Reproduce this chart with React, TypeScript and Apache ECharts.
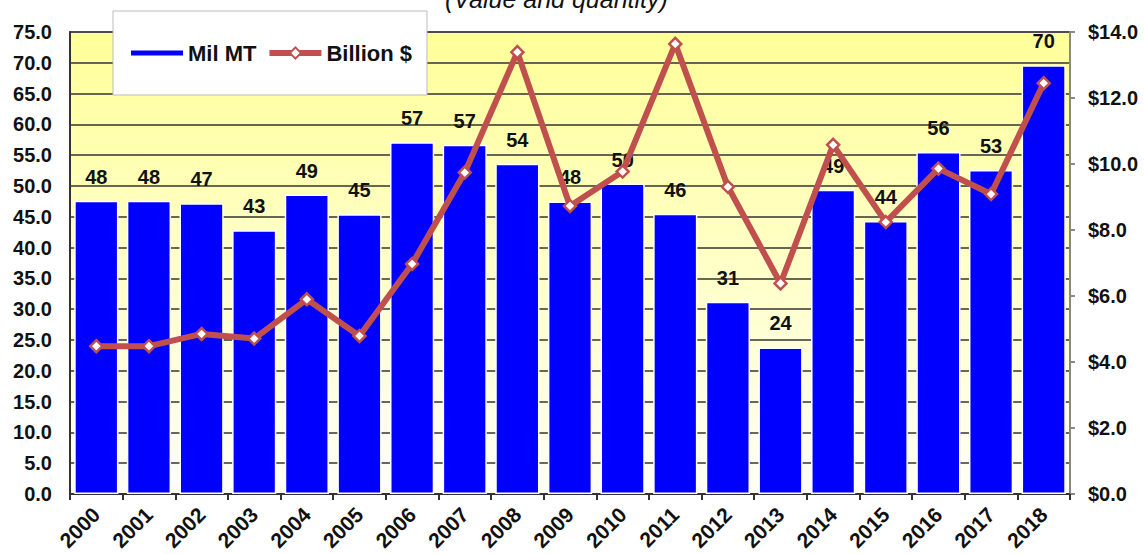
import React, { useEffect, useRef } from "react";
import * as echarts from "echarts";

const years = ["2000","2001","2002","2003","2004","2005","2006","2007","2008","2009","2010","2011","2012","2013","2014","2015","2016","2017","2018"];
const quantityMilMT = [47.6, 47.6, 47.2, 42.8, 48.6, 45.4, 57.1, 56.7, 53.6, 47.5, 50.4, 45.5, 31.2, 23.8, 49.4, 44.3, 55.5, 52.6, 69.6];
const valueBillion = [4.48, 4.48, 4.85, 4.71, 5.9, 4.79, 6.97, 9.74, 13.39, 8.73, 9.77, 13.64, 9.31, 6.38, 10.58, 8.24, 9.86, 9.09, 12.45];
const seriesNames = ["Mil MT", "Billion $"];
const titleText = "(Value and quantity)";

const FONT = 'Arial, "Liberation Sans", sans-serif';

export default function App() {
  const ref = useRef<HTMLDivElement>(null);
  useEffect(() => {
    if (!ref.current) return;
    const chart = echarts.init(ref.current, null, { renderer: "svg" });
    chart.setOption({
      animation: false,
      title: {
        text: titleText,
        left: 445,
        top: -14,
        padding: 0,
        textStyle: { fontFamily: FONT, fontSize: 25, fontStyle: "italic", fontWeight: "normal", color: "#111" },
      },
      legend: {
        left: 113,
        top: 11,
        padding: [31, 15, 31, 18],
        backgroundColor: "#ffffff",
        borderColor: "#bbbbbb",
        borderWidth: 1,
        borderRadius: 0,
        itemWidth: 52,
        itemHeight: 14,
        itemGap: 10,
        textStyle: { fontFamily: FONT, fontSize: 22, fontWeight: "bold", color: "#111" },
        lineStyle: { width: 6 },
        data: [
          {
            name: seriesNames[0],
            icon: "path://M0,0 M0,4.5 L52,4.5 L52,9.5 L0,9.5 Z M52,14",
            itemStyle: { color: "#0000FF", borderWidth: 0 },
          },
          { name: seriesNames[1] },
        ],
      },
      grid: {
        left: 70,
        right: 74,
        top: 32,
        bottom: 60,
        show: true,
        borderColor: "#999999",
        borderWidth: 2,
        backgroundColor: new echarts.graphic.LinearGradient(0, 0, 0, 1, [
          { offset: 0, color: "#FFFF99" },
          { offset: 1, color: "#FFFFF6" },
        ]),
      },
      xAxis: {
        type: "category",
        data: years,
        boundaryGap: true,
        axisLine: { show: true, lineStyle: { color: "#333", width: 2 } },
        axisTick: { show: true, alignWithLabel: false, length: 6, lineStyle: { color: "#333", width: 2 } },
        axisLabel: {
          interval: 0,
          rotate: 45,
          margin: 17,
          fontFamily: FONT,
          fontSize: 21,
          fontWeight: "bold",
          color: "#111",
        },
      },
      yAxis: [
        {
          type: "value",
          min: 0,
          max: 75,
          interval: 5,
          axisLine: { show: true, lineStyle: { color: "#333", width: 2 } },
          axisTick: { show: false },
          splitLine: { show: true, lineStyle: { color: "#333", width: 1.5 } },
          axisLabel: {
            margin: 18,
            formatter: (v: number) => v.toFixed(1),
            fontFamily: FONT,
            fontSize: 20,
            fontWeight: "bold",
            color: "#111",
          },
        },
        {
          type: "value",
          min: 0,
          max: 14,
          interval: 2,
          position: "right",
          axisLine: { show: true, lineStyle: { color: "#888", width: 2 } },
          axisTick: { show: true, length: 5, lineStyle: { color: "#888", width: 2 } },
          splitLine: { show: false },
          axisLabel: {
            margin: 18,
            formatter: (v: number) => "$" + v.toFixed(1),
            fontFamily: FONT,
            fontSize: 20,
            fontWeight: "bold",
            color: "#111",
          },
        },
      ],
      series: [
        {
          name: seriesNames[0],
          type: "bar",
          data: quantityMilMT,
          yAxisIndex: 0,
          barWidth: "84%",
          itemStyle: { color: "#0000FF", borderColor: "#ffffff", borderWidth: 1.5 },
          label: {
            show: true,
            position: "top",
            distance: 14,
            formatter: (p: any) => String(Math.round(p.value)),
            fontFamily: FONT,
            fontSize: 20,
            fontWeight: "bold",
            color: "#111",
          },
          z: 2,
        },
        {
          name: seriesNames[1],
          type: "line",
          data: valueBillion,
          yAxisIndex: 1,
          symbol: "diamond",
          symbolSize: 12,
          lineStyle: { color: "#C0504D", width: 6 },
          itemStyle: { color: "#ffffff", borderColor: "#C0504D", borderWidth: 2.5 },
          z: 3,
        },
      ],
    });
    return () => chart.dispose();
  }, []);
  return (
    <div
      ref={ref}
      style={{ position: "fixed", left: 0, top: 0, width: 1144, height: 554, background: "#ffffff" }}
    />
  );
}
